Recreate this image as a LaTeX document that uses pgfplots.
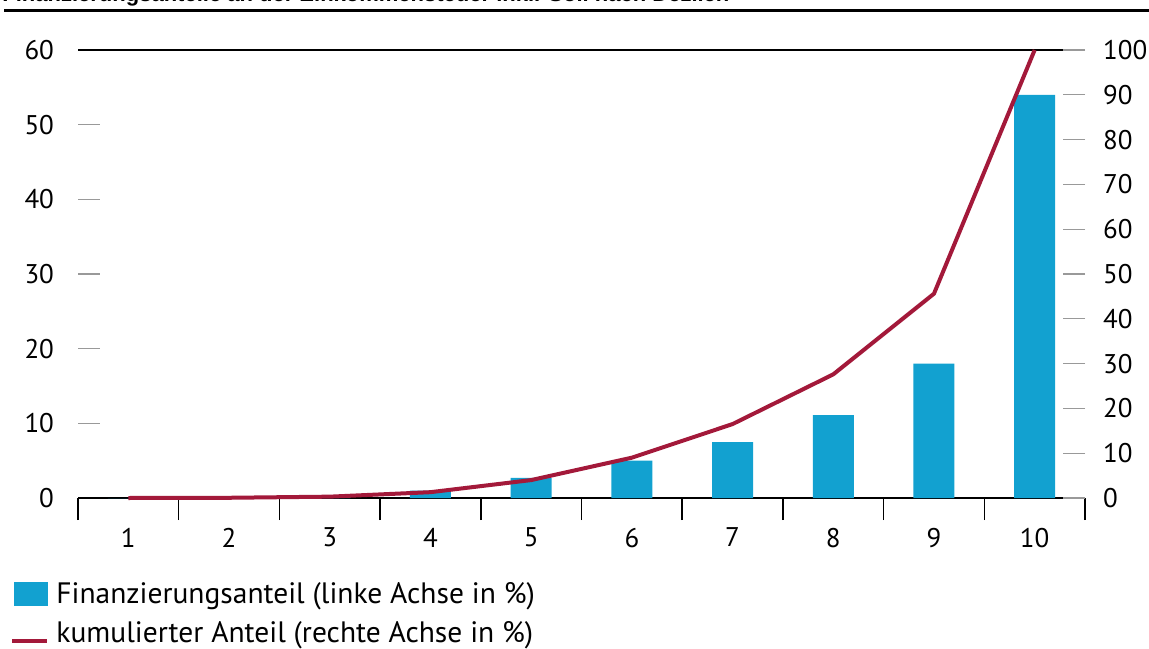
\documentclass[border=0pt]{standalone}
\usepackage{pgfplots}
\pgfplotsset{compat=1.18}
\usepackage{fontspec}
\setmainfont{PT Sans}
\newfontfamily\titlefont{Liberation Sans}
\definecolor{barblue}{HTML}{12A1D0}
\definecolor{linered}{HTML}{A3193A}
\begin{document}
\begin{tikzpicture}
\path[use as bounding box] (0,0) rectangle (574.5pt,324pt);
\node[anchor=base west, font=\titlefont\bfseries\fontsize{11}{13}\selectfont, inner sep=0pt] at (1pt,323.4pt) {Finanzierungsanteile an der Einkommensteuer inkl. Soli nach Dezilen};
\draw[line width=1.5pt] (2pt,318.8pt) -- (574.5pt,318.8pt);

\begin{axis}[
  at={(39pt,75pt)}, anchor=south west,
  scale only axis, width=503.5pt, height=224pt,
  xmin=0.5, xmax=10.5, ymin=0, ymax=60,
  axis x line*=bottom, axis y line*=left,
  y axis line style={draw=none},
  x axis line style={line width=0.75pt, -},
  xtick={0.5,1.5,...,10.5}, xticklabels={},
  x tick style={black, line width=0.75pt},
  xtick align=outside,
  extra x ticks={1,2,...,10},
  extra x tick labels={1,2,3,4,5,6,7,8,9,10},
  extra x tick style={major tick length=0pt},
  major tick length=11pt,
  ytick={0,10,...,60},
  ytick align=inside,
  y tick style={gray!80, line width=0.6pt},
  tick label style={font=\fontsize{13.5}{15}\selectfont},
  /pgf/number format/assume math mode=true,
  yticklabel style={xshift=-8.5pt},
  xticklabel style={yshift=-11.5pt},
  ybar, bar width=20.5pt, bar shift=0pt,
  clip=false,
]
\addplot[fill=barblue, draw=none] coordinates {
(1,0) (2,0.05) (3,0.25) (4,1.0) (5,2.7) (6,5.0) (7,7.5) (8,11.1) (9,18.0) (10,54.0)};
\draw[line width=0.75pt] (rel axis cs:0,1) -- (rel axis cs:1,1);
\end{axis}

\begin{axis}[
  at={(39pt,75pt)}, anchor=south west,
  scale only axis, width=503.5pt, height=224pt,
  xmin=0.5, xmax=10.5, ymin=0, ymax=100,
  axis x line=none, axis y line*=right,
  y axis line style={draw=none},
  ytick={0,10,...,100},
  ytick align=inside,
  major tick length=11pt,
  y tick style={gray!80, line width=0.6pt},
  tick label style={font=\fontsize{13.5}{15}\selectfont},
  /pgf/number format/assume math mode=true,
  yticklabel style={xshift=5.5pt},
  clip=false,
  legend style={draw=none, fill=none, at={(rel axis cs:-0.0675,-0.178)}, anchor=north west,
    font=\fontsize{14.75}{17}\selectfont, cells={anchor=west}, row sep=3.5pt, inner sep=0pt,
    /tikz/every odd column/.append style={column sep=1.5pt}},
]
\addlegendimage{legend image code/.code={\fill[barblue] (0pt,-5.75pt) rectangle (16.5pt,5.75pt);}}
\addlegendentry{Finanzierungsanteil (linke Achse in \%)}
\addplot[linered, line width=2pt, mark=none,
  legend image code/.code={\draw[linered, line width=2pt] (-1pt,-4pt) -- (16.5pt,-4pt);}] coordinates {
(1,0) (2,0.05) (3,0.3) (4,1.3) (5,4.0) (6,9.0) (7,16.5) (8,27.6) (9,45.6) (10,100)};
\addlegendentry{kumulierter Anteil (rechte Achse in \%)}
\end{axis}
\end{tikzpicture}
\end{document}
